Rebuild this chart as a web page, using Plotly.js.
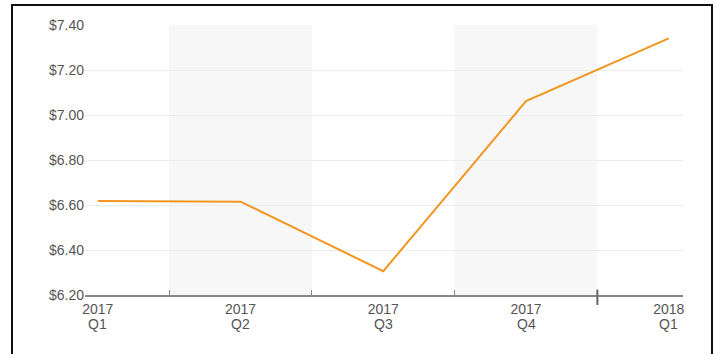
<!DOCTYPE html>
<html>
<head>
<meta charset="utf-8">
<script src="https://cdn.plot.ly/plotly-3.0.1.min.js"></script>
<style>
  html, body { margin: 0; padding: 0; background: #ffffff; }
  #wrap { position: relative; width: 717px; height: 354px; overflow: hidden; }
  #chart { position: absolute; left: 0; top: 0; width: 717px; height: 354px; }
  #frame { position: absolute; left: 11px; top: 4px; width: 698px; height: 400px; border: 2px solid #111; pointer-events: none; }
</style>
</head>
<body>
<div id="wrap">
  <div id="chart"></div>
  <div id="frame"></div>
</div>
<script>
const categories = ["2017 Q1", "2017 Q2", "2017 Q3", "2017 Q4", "2018 Q1"];
const years = ["2017", "2017", "2017", "2017", "2018"];
const quarters = ["Q1", "Q2", "Q3", "Q4", "Q1"];
const prices = [6.618, 6.615, 6.306, 7.062, 7.341];
const yTicks = [6.2, 6.4, 6.6, 6.8, 7.0, 7.2, 7.4];
const yTickText = ["$6.20", "$6.40", "$6.60", "$6.80", "$7.00", "$7.20", "$7.40"];
const shadedIdx = [1, 3];   // shaded quarter columns
const markedBoundary = 3.5; // emphasised tick between Q4 and next Q1

const font = "Liberation Sans, Arial, sans-serif";

const shapes = shadedIdx.map(i => ({
  type: "rect", xref: "x", yref: "y", layer: "below",
  x0: i - 0.5, x1: i + 0.5, y0: yTicks[0], y1: yTicks[yTicks.length - 1],
  fillcolor: "#f7f7f7", line: { width: 0 }
}));
shapes.push({
  type: "line", xref: "x", yref: "paper",
  x0: markedBoundary, x1: markedBoundary, y0: 0.02, y1: -0.037,
  line: { color: "#666", width: 2 }
});

const annotations = categories.map((c, i) => ({
  x: c, xref: "x", y: 0, yref: "paper", yanchor: "top", yshift: -20,
  text: quarters[i], showarrow: false, borderpad: 0,
  font: { family: font, size: 14, color: "#555" }
}));

Plotly.newPlot("chart", [{
  type: "scatter", mode: "lines",
  x: categories, y: prices,
  line: { color: "#f2961f", width: 2 },
  hoverinfo: "skip"
}], {
  width: 717, height: 354,
  margin: { l: 85, r: 34, t: 25, b: 59 },
  paper_bgcolor: "#ffffff", plot_bgcolor: "#ffffff",
  showlegend: false,
  font: { family: font, size: 14, color: "#555" },
  xaxis: {
    type: "category",
    range: [-0.09, 4.1],
    tickmode: "array", tickvals: categories, ticktext: years,
    tickson: "boundaries", ticklabelstandoff: 1,
    ticks: "inside", ticklen: 5, tickcolor: "#888", tickwidth: 1,
    showgrid: false, zeroline: false,
    showline: true, linecolor: "#888", linewidth: 1.5,
    tickfont: { family: font, size: 14, color: "#555" },
    fixedrange: true
  },
  yaxis: {
    range: [6.2, 7.4005],
    tickmode: "array", tickvals: yTicks, ticktext: yTickText,
    showgrid: true, gridcolor: "#ececec", gridwidth: 1,
    zeroline: false, showline: false, ticks: "",
    tickfont: { family: font, size: 14, color: "#555" },
    fixedrange: true
  },
  shapes: shapes,
  annotations: annotations
}, { staticPlot: true, displayModeBar: false });
</script>
</body>
</html>
